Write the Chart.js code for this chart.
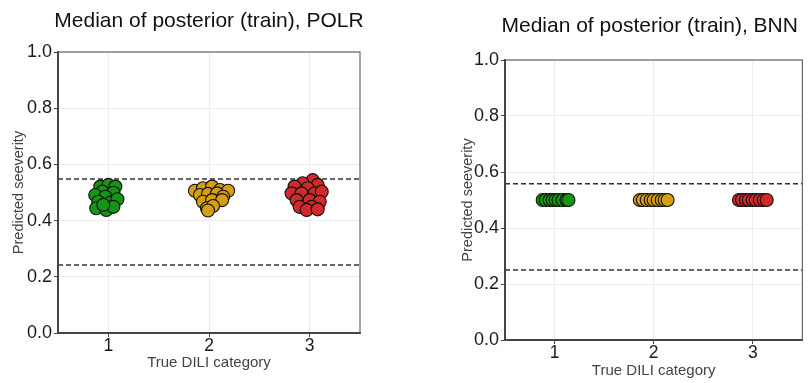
<!DOCTYPE html>
<html>
<head>
<meta charset="utf-8">
<script src="https://cdn.jsdelivr.net/npm/chart.js@4.4.1/dist/chart.umd.min.js"></script>
<style>
    body { margin: 0; background: #fff; width: 810px; height: 383px; overflow: hidden; position: relative; }
    canvas { position: absolute; top: 0; }
</style>
</head>
<body>
<canvas id="chartPolr" width="400" height="383" style="left:0"></canvas>
<canvas id="chartBnn" width="410" height="383" style="left:400px"></canvas>
<script>
// categorias e ticks
const categories = [1, 2, 3]
const yTicks = [0, 0.2, 0.4, 0.6, 0.8, 1.0]
const catColors = ["rgb(20, 150, 20)", "rgb(214, 158, 18)", "rgb(208, 42, 42)"]

// POLR - mediana do posterior (jitter em x, valor em y)
const polrCat1X = [0.92, 1.00, 1.07, 0.94, 1.05, 0.87, 0.97, 0.90, 1.02, 1.09, 0.88, 0.98, 1.05, 0.95]
const polrCat1Y = [0.521, 0.527, 0.521, 0.503, 0.499, 0.491, 0.485, 0.467, 0.464, 0.476, 0.444, 0.438, 0.449, 0.456]
const polrCat2X = [1.86, 1.94, 2.03, 2.11, 2.19, 1.91, 1.99, 2.08, 2.14, 1.94, 2.03, 2.13, 1.98, 2.04, 1.99]
const polrCat2Y = [0.506, 0.515, 0.521, 0.509, 0.506, 0.491, 0.495, 0.497, 0.485, 0.467, 0.473, 0.473, 0.444, 0.452, 0.436]
const polrCat3X = [3.03, 2.93, 3.08, 2.85, 2.98, 2.82, 2.92, 3.05, 3.12, 2.87, 3.00, 3.10, 2.90, 3.02, 2.97, 3.08]
const polrCat3Y = [0.544, 0.533, 0.527, 0.521, 0.515, 0.497, 0.497, 0.497, 0.503, 0.473, 0.473, 0.467, 0.449, 0.449, 0.438, 0.440]
const polrCutoffs = [0.242, 0.548]

// BNN - tudo em 0.5
const bnnCat1X = [0.88, 0.91, 0.95, 0.98, 1.01, 1.04, 1.08, 1.12, 1.14]
const bnnCat1Y = [0.5, 0.5, 0.5, 0.5, 0.5, 0.5, 0.5, 0.5, 0.5]
const bnnCat2X = [1.86, 1.89, 1.93, 1.97, 2.00, 2.04, 2.08, 2.11, 2.14]
const bnnCat2Y = [0.5, 0.5, 0.5, 0.5, 0.5, 0.5, 0.5, 0.5, 0.5]
const bnnCat3X = [2.86, 2.89, 2.93, 2.96, 3.00, 3.03, 3.07, 3.11, 3.14]
const bnnCat3Y = [0.5, 0.5, 0.5, 0.5, 0.5, 0.5, 0.5, 0.5, 0.5]
const bnnCutoffs = [0.25, 0.558]

const xMin = 0.5
const xMax = 3.5

const pairs = (xs, ys) => xs.map((x, i) => ({ x: x, y: ys[i] }))

// moldura + título desenhados por plugin
const framePlugin = {
    id: "frame",
    afterDraw(chart) {
        const { ctx, chartArea: a } = chart
        ctx.save()
        ctx.strokeStyle = "#666"
        ctx.lineWidth = 1.2
        ctx.strokeRect(a.left, a.top, a.right - a.left, a.bottom - a.top)
        ctx.strokeStyle = "#444"
        ctx.lineWidth = 2
        ctx.beginPath()
        ctx.moveTo(a.left, a.top)
        ctx.lineTo(a.left, a.bottom)
        ctx.lineTo(a.right, a.bottom)
        ctx.stroke()
        const t = chart.options.plugins.panelTitle
        ctx.fillStyle = "#111"
        ctx.font = "21px 'Liberation Sans', Arial, sans-serif"
        ctx.textAlign = "center"
        ctx.textBaseline = "middle"
        ctx.fillText(t.text, (a.left + a.right) / 2 + t.dx, t.y)
        ctx.restore()
    }
}

function makePanel(id, title, xs, ys, cutoffs, pad, titleY, titleDx, yTitlePad, xTitlePad) {
    const datasets = categories.map((c, i) => ({
        type: "scatter",
        data: pairs(xs[i], ys[i]),
        backgroundColor: catColors[i],
        borderColor: "#111",
        borderWidth: 1.1,
        pointRadius: 6.5,
        pointHoverRadius: 6.5,
        order: 1
    }))
    cutoffs.forEach(v => {
        datasets.push({
            type: "line",
            data: [{ x: xMin, y: v }, { x: xMax, y: v }],
            borderColor: "#333",
            borderWidth: 1.3,
            borderDash: [5, 3],
            pointRadius: 0,
            fill: false,
            order: 2
        })
    })

    new Chart(document.getElementById(id), {
        data: { datasets: datasets },
        options: {
            responsive: false,
            animation: false,
            events: [],
            layout: { padding: pad },
            plugins: {
                legend: { display: false },
                tooltip: { enabled: false },
                panelTitle: { text: title, y: titleY, dx: titleDx }
            },
            scales: {
                x: {
                    type: "linear",
                    min: xMin,
                    max: xMax,
                    afterBuildTicks: s => { s.ticks = categories.map(v => ({ value: v })) },
                    afterFit: s => { s.height = 42 },
                    ticks: {
                        color: "#1a1a1a",
                        font: { family: "'Liberation Sans', Arial", size: 17.5 },
                        padding: -1,
                        maxRotation: 0,
                        callback: v => String(v)
                    },
                    grid: { color: "#ececec", tickColor: "#444", tickLength: 4, lineWidth: 1 },
                    border: { color: "#444", width: 2 },
                    title: {
                        display: true,
                        text: "True DILI category",
                        color: "#444",
                        font: { family: "'Liberation Sans', Arial", size: 15 },
                        padding: { top: 0, bottom: xTitlePad }
                    }
                },
                y: {
                    type: "linear",
                    min: 0,
                    max: 1,
                    afterBuildTicks: s => { s.ticks = yTicks.map(v => ({ value: v })) },
                    afterFit: s => { s.width = 53 },
                    ticks: {
                        color: "#1a1a1a",
                        font: { family: "'Liberation Sans', Arial", size: 18 },
                        padding: 2,
                        callback: v => v.toFixed(1)
                    },
                    grid: { color: "#ececec", tickColor: "#444", tickLength: 4, lineWidth: 1 },
                    border: { color: "#444", width: 2 },
                    title: {
                        display: true,
                        text: "Predicted seeverity",
                        color: "#444",
                        font: { family: "'Liberation Sans', Arial", size: 14.5 },
                        padding: { top: yTitlePad, bottom: 0 }
                    }
                }
            }
        },
        plugins: [framePlugin]
    })
}

makePanel("chartPolr", "Median of posterior (train), POLR",
    [polrCat1X, polrCat2X, polrCat3X], [polrCat1Y, polrCat2Y, polrCat3Y],
    polrCutoffs, { left: 5, top: 52, right: 40, bottom: 8 }, 21, 0, 5, 3)

makePanel("chartBnn", "Median of posterior (train), BNN",
    [bnnCat1X, bnnCat2X, bnnCat3X], [bnnCat1Y, bnnCat2Y, bnnCat3Y],
    bnnCutoffs, { left: 52, top: 60, right: 2, bottom: 1 }, 26, -4, 7, 2)
</script>
</body>
</html>
